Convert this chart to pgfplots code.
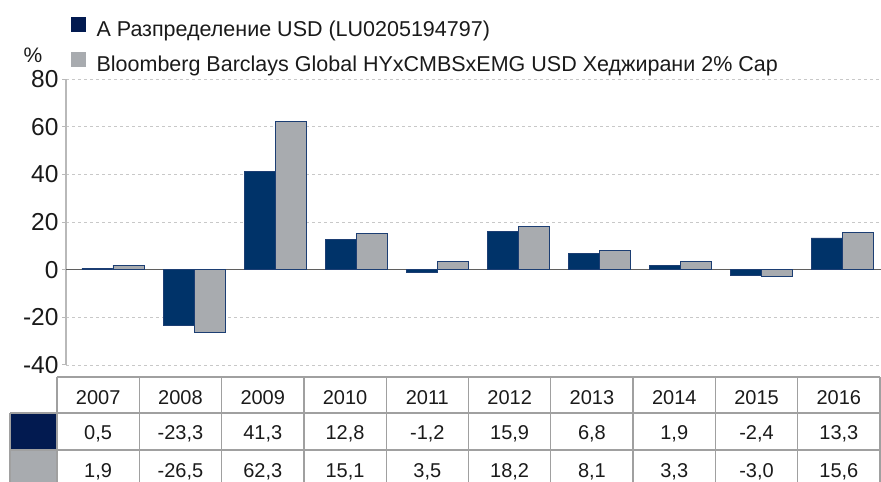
\documentclass[border=0pt]{standalone}
\usepackage{fontspec}
\setmainfont{Liberation Sans}
\usepackage{pgfplots}
\pgfplotsset{compat=1.18}
\definecolor{barnavy}{RGB}{0,51,105}
\definecolor{edgenavy}{RGB}{28,62,115}
\definecolor{legnavy}{RGB}{2,26,80}
\definecolor{bargray}{RGB}{168,171,175}
\definecolor{txt}{RGB}{26,26,26}
\definecolor{gridc}{RGB}{200,200,200}
\definecolor{axc}{RGB}{185,185,185}
\definecolor{zeroc}{RGB}{95,95,95}
\definecolor{tabc}{RGB}{160,160,160}
\begin{document}
\begin{tikzpicture}
\path[use as bounding box] (0,0) rectangle (881pt,482pt);
\begin{axis}[
  at={(66pt,117pt)}, anchor=south west,
  scale only axis, width=815pt, height=286pt,
  xmin=-0.58, xmax=9.48, ymin=-40, ymax=80,
  ytick={-40,-20,0,20,40,60,80},
  axis x line=none,
  axis y line*=left,
  y axis line style={draw=axc, line width=1.6pt, -},
  ytick style={draw=axc, line width=1pt},
  tick align=outside, major tick length=4pt,
  ymajorgrids,
  major grid style={draw=gridc, line width=0.9pt, dash pattern=on 3pt off 3pt},
  extra y ticks={0}, extra y tick labels={},
  extra y tick style={grid=major, major grid style={draw=zeroc, line width=1.2pt, solid}},
  /pgf/number format/assume math mode=true,
  yticklabel style={font=\fontsize{24.5}{27}\selectfont, text=txt, xshift=0pt},
  legend cell align=left,
  legend style={at={(0.0061,1.217)}, anchor=north west, draw=none, fill=none,
    inner sep=0pt, row sep=12pt, column sep=11pt,
    font=\fontsize{21.5}{24}\selectfont, text=txt,
    nodes={inner sep=0pt, text height=14pt, text depth=4pt}},
]
\addlegendimage{legend image code/.code={\fill[legnavy] (0pt,0pt) rectangle (14pt,14pt);}}
\addlegendentry{A Разпределение USD (LU0205194797)}
\addlegendimage{legend image code/.code={\fill[bargray] (0pt,0pt) rectangle (14pt,14pt);}}
\addlegendentry{Bloomberg Barclays Global HYxCMBSxEMG USD Хеджирани 2\% Cap}
\addplot[ybar, bar width=31pt, bar shift=-15.5pt, fill=barnavy, draw=edgenavy, line width=0.8pt, forget plot]
  coordinates {(0,0.5) (1,-23.3) (2,41.3) (3,12.8) (4,-1.2) (5,15.9) (6,6.8) (7,1.9) (8,-2.4) (9,13.3)};
\addplot[ybar, bar width=31pt, bar shift=15.5pt, fill=bargray, draw=edgenavy, line width=0.8pt, forget plot]
  coordinates {(0,1.9) (1,-26.5) (2,62.3) (3,15.1) (4,3.5) (5,18.2) (6,8.1) (7,3.3) (8,-3.0) (9,15.6)};
\end{axis}
\begin{scope}[x=1pt,y=1pt]
% percent sign
\node[anchor=base, font=\fontsize{21}{24}\selectfont, text=txt, inner sep=0pt] at (33,419) {\%};
% table
\fill[legnavy] (10,32) rectangle (57,69);
\fill[bargray] (10,-10) rectangle (57,32);
\begin{scope}[draw=tabc, line width=1.3pt]
  \draw (57,105) -- (880,105);
  \draw (10,69) -- (880,69);
  \draw (10,32) -- (880,32);
  \draw (10,69) -- (10,-10);
  \foreach \k in {0,...,10} {
    \draw ({57+82.3*\k},105) -- ({57+82.3*\k},-10);
  }
\end{scope}
\foreach \yr [count=\i from 0] in {2007,2008,2009,2010,2011,2012,2013,2014,2015,2016} {
  \node[anchor=base, font=\fontsize{20}{23}\selectfont, text=txt, inner sep=0pt] at ({57+82.3*\i+41.15},77) {\yr};
}
\foreach \v [count=\i from 0] in {{0,5},{-23,3},{41,3},{12,8},{-1,2},{15,9},{6,8},{1,9},{-2,4},{13,3}} {
  \node[anchor=base, font=\fontsize{20}{23}\selectfont, text=txt, inner sep=0pt] at ({57+82.3*\i+41.15},42) {\v};
}
\foreach \v [count=\i from 0] in {{1,9},{-26,5},{62,3},{15,1},{3,5},{18,2},{8,1},{3,3},{-3,0},{15,6}} {
  \node[anchor=base, font=\fontsize{20}{23}\selectfont, text=txt, inner sep=0pt] at ({57+82.3*\i+41.15},5) {\v};
}
\end{scope}
\end{tikzpicture}
\end{document}
